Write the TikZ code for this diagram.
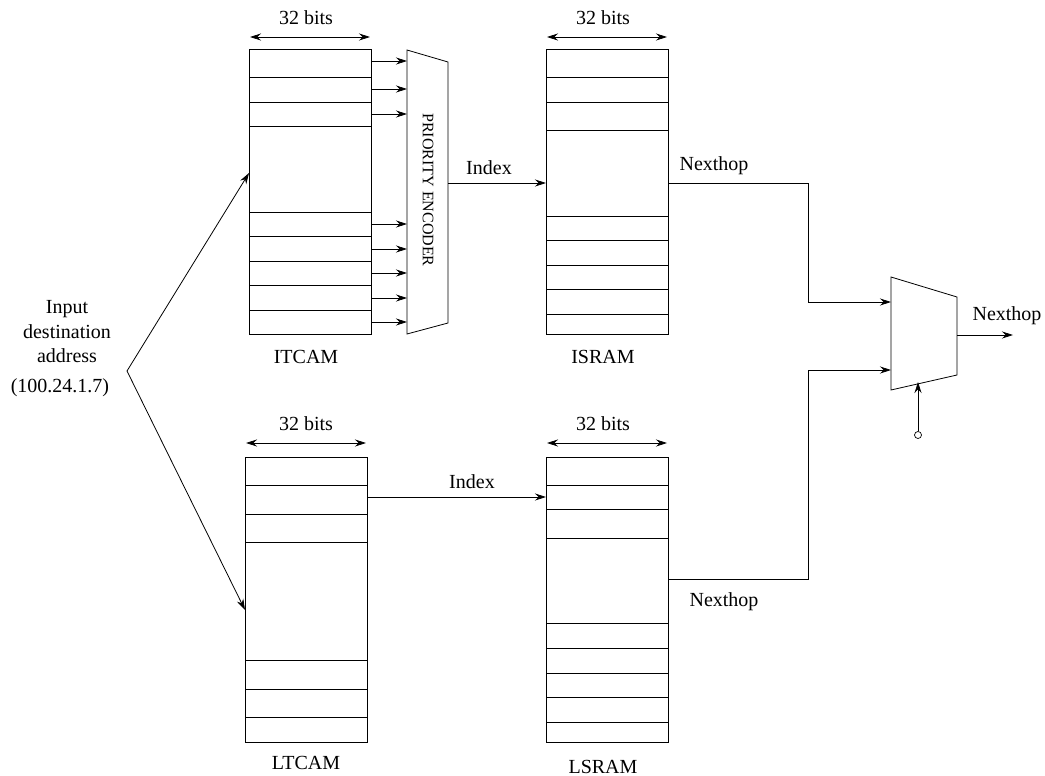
\documentclass[tikz,border=0pt]{standalone}
\usepackage{fontspec}
\setmainfont{Liberation Serif}
\usetikzlibrary{arrows.meta}
\begin{document}
\begin{tikzpicture}[x=1pt,y=-1pt,
  every node/.style={font=\fontsize{20}{24}\selectfont, inner sep=0pt},
  mem/.style={draw, line width=0.8pt, minimum width=122pt, anchor=north west},
  wire/.style={line width=0.8pt},
  arr/.style={wire, -{Stealth[length=11pt,width=7pt]}},
  dim/.style={wire, {Stealth[length=11pt,width=7pt]}-{Stealth[length=11pt,width=7pt]}},
  lbl/.style={anchor=center}]
\useasboundingbox (0,0) rectangle (1045,776);
% memories
\node[mem, minimum height=285pt] (itcam) at (249,49) {};
\node[mem, minimum height=285pt] (isram) at (546,49) {};
\node[mem, minimum height=285pt] (ltcam) at (245,457) {};
\node[mem, minimum height=285pt] (lsram) at (546,457) {};
\foreach \y in {77,102,126,212,236,261,285,310} \draw[wire] (249,\y) -- (371,\y);
\foreach \y in {77,102,130,216,240,265,289,314} \draw[wire] (546,\y) -- (668,\y);
\foreach \y in {485,514,542,660,689,717} \draw[wire] (245,\y) -- (367,\y);
\foreach \y in {485,509,538,623,648,673,697,722} \draw[wire] (546,\y) -- (668,\y);
% width arrows
\coordinate (w1a) at (250,37); \coordinate (w1b) at (370,37);
\coordinate (w2a) at (547,37); \coordinate (w2b) at (667,37);
\coordinate (w3a) at (246,443); \coordinate (w3b) at (366,443);
\coordinate (w4a) at (547,443); \coordinate (w4b) at (667,443);
\draw[dim] (w1a) -- (w1b);
\draw[dim] (w2a) -- (w2b);
\draw[dim] (w3a) -- (w3b);
\draw[dim] (w4a) -- (w4b);
\node[lbl] (b1) at (306,18) {32 bits};
\node[lbl] (b2) at (603,18) {32 bits};
\node[lbl] (b3) at (306,424) {32 bits};
\node[lbl] (b4) at (603,424) {32 bits};
% labels
\node[lbl] (litcam) at (306,357) {ITCAM};
\node[lbl] (lisram) at (603,357) {ISRAM};
\node[lbl] (lltcam) at (306,763) {LTCAM};
\node[lbl] (llsram) at (603,767) {LSRAM};
% priority encoder
\coordinate (pe1) at (407,50); \coordinate (pe2) at (448,62);
\coordinate (pe3) at (448,323); \coordinate (pe4) at (407,334);
\draw[wire] (pe1) -- (pe2) -- (pe3) -- (pe4) -- cycle;
\node[rotate=-90, font=\fontsize{16}{19}\selectfont] (pe) at (428,190) {PRIORITY ENCODER};
\foreach \y in {61,89,114,224,249,273,298,322} {
  \coordinate (s) at (371,\y); \coordinate (t) at (407,\y);
  \draw[arr] (s) -- (t);
}
% index upper
\coordinate (i1s) at (448,183); \coordinate (i1t) at (546,183);
\draw[arr] (i1s) -- (i1t);
\node[lbl] (idx1) at (489,168) {Index};
% index lower
\coordinate (i2s) at (367,497); \coordinate (i2t) at (546,497);
\draw[arr] (i2s) -- (i2t);
\node[lbl] (idx2) at (472,482) {Index};
% mux
\coordinate (m1) at (891,277); \coordinate (m2) at (957,297);
\coordinate (m3) at (957,375); \coordinate (m4) at (891,390);
\draw[wire] (m1) -- (m2) -- (m3) -- (m4) -- cycle;
\coordinate (mi1) at (891,302); \coordinate (mi2) at (891,370);
\coordinate (nh1) at (668,183); \coordinate (nh2) at (668,579);
\draw[arr] (nh1) -| (808,302) -- (mi1);
\draw[arr] (nh2) -| (808,370) -- (mi2);
\node[lbl] (nhl1) at (714,166) {Nexthop};
\node[lbl] (nhl2) at (724,602) {Nexthop};
\coordinate (mo) at (957,335); \coordinate (mot) at (1013,335);
\draw[arr] (mo) -- (mot);
\node[lbl] (nhl3) at (1007,316) {Nexthop};
\node[draw, circle, minimum size=7pt, line width=0.7pt] (sel) at (918,435) {};
\coordinate (selt) at (918,382);
\draw[arr] (sel) -- (selt);
% input
\node[lbl, align=center, font=\fontsize{20}{24.5}\selectfont] (inp) at (67,332) {Input\\destination\\address};
\node[lbl] (addr) at (60,388) {(100.24.1.7)};
\coordinate (v) at (127,371);
\coordinate (itin) at (249,173); \coordinate (ltin) at (245,610);
\draw[arr] (v) -- (itin);
\draw[arr] (v) -- (ltin);
\end{tikzpicture}
\end{document}
